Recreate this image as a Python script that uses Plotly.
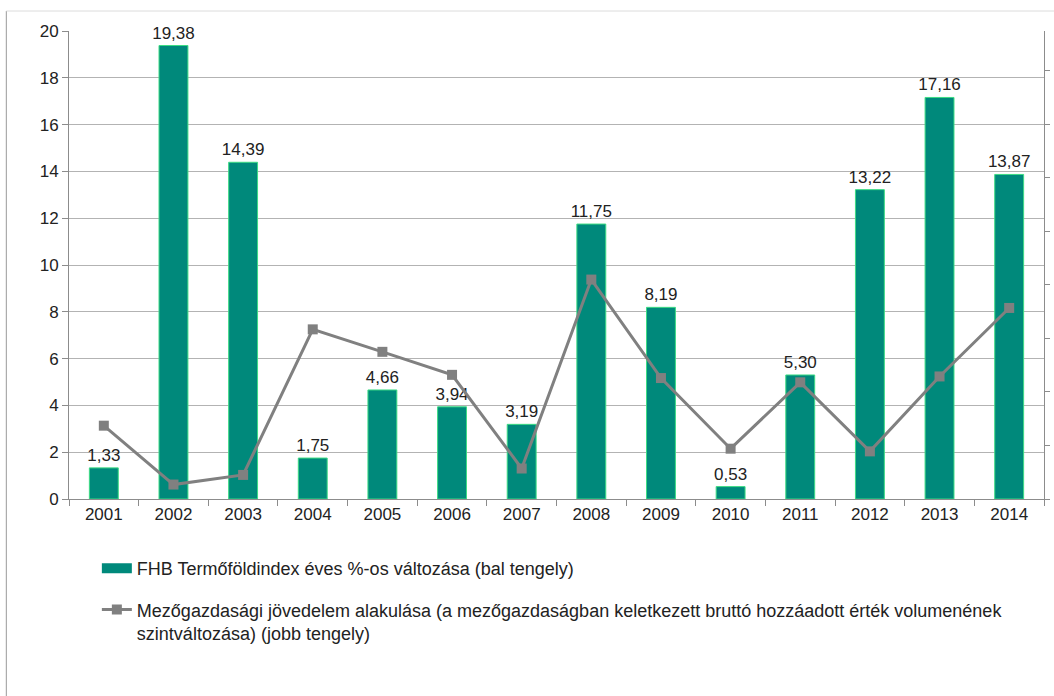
import plotly.graph_objects as go

years = ["2001", "2002", "2003", "2004", "2005", "2006", "2007",
         "2008", "2009", "2010", "2011", "2012", "2013", "2014"]
fhb_index = [1.33, 19.38, 14.39, 1.75, 4.66, 3.94, 3.19,
             11.75, 8.19, 0.53, 5.30, 13.22, 17.16, 13.87]
# right-axis values (tick spacing = 1 unit; axis labels not visible in the source)
agri_income = [1.37, 0.27, 0.45, 3.17, 2.75, 2.32, 0.57,
               4.10, 2.26, 0.94, 2.18, 0.89, 2.29, 3.57]

name_bar = "FHB Termőföldindex éves %-os változása (bal tengely)"
name_line = ("Mezőgazdasági jövedelem alakulása (a mezőgazdaságban keletkezett bruttó hozzáadott érték volumenének"
             "<br>szintváltozása) (jobb tengely)")

FONT = "Liberation Sans, Arial, sans-serif"
TXT = "#222222"
BAR = "#00897B"
W, H = 1054, 696
L, R, T, B = 69, 5, 31, 197
pw, ph = W - L - R, H - T - B

def px(x):
    return (x - L) / pw

def py(y):
    return (H - B - y) / ph

fig = go.Figure()
fig.add_trace(go.Bar(
    x=years, y=fhb_index, name=name_bar, showlegend=False,
    marker=dict(color=BAR, line=dict(color="#3ddc84", width=1)),
    texttemplate="%{y:.2f}", textposition="outside", constraintext="none",
    textfont=dict(family=FONT, size=17, color=TXT),
    cliponaxis=False,
))
# legend entry for the bars (wide swatch like the source)
fig.add_trace(go.Scatter(
    x=[None], y=[None], name=name_bar, mode="lines",
    line=dict(color=BAR, width=10), legendgroup="a",
))
fig.add_trace(go.Scatter(
    x=years, y=agri_income, name=name_line, yaxis="y2",
    mode="lines+markers", legendgroup="b",
    line=dict(color="#808080", width=3),
    marker=dict(symbol="square", size=10, color="#808080"),
))

fig.update_layout(
    width=W, height=H,
    margin=dict(l=L, r=R, t=T, b=B, pad=0),
    paper_bgcolor="white", plot_bgcolor="white",
    separators=", ",
    font=dict(family=FONT, size=17, color=TXT),
    bargap=0.585,
    showlegend=True,
    legend=dict(
        orientation="v", x=px(97), y=py(550), xanchor="left", yanchor="top",
        font=dict(family=FONT, size=18, color=TXT),
        tracegroupgap=15, itemwidth=30, valign="top",
        bgcolor="rgba(0,0,0,0)",
    ),
    xaxis=dict(
        showgrid=False, showline=True, linecolor="#8c8c8c", linewidth=1,
        ticks="outside", tickson="boundaries", ticklen=6, tickcolor="#8c8c8c",
        tickfont=dict(family=FONT, size=17, color=TXT),
        range=[-0.5, 13.5],
    ),
    yaxis=dict(
        range=[0, 20], dtick=2, showgrid=True, gridcolor="#b3b3b3", gridwidth=1,
        showline=True, linecolor="#8c8c8c", linewidth=1,
        ticks="outside", ticklen=6, tickcolor="#8c8c8c",
        tickfont=dict(family=FONT, size=17, color=TXT),
        zeroline=False,
    ),
    yaxis2=dict(
        overlaying="y", side="right", range=[0, 8.745], dtick=1,
        showgrid=False, showline=True, linecolor="#8c8c8c", linewidth=1,
        ticks="outside", ticklen=5, tickcolor="#8c8c8c",
        showticklabels=False, zeroline=False,
    ),
)

# outer chart frame (left and top edges)
fig.add_shape(type="line", xref="paper", yref="paper",
              x0=px(6), x1=px(6), y0=py(11), y1=py(700),
              line=dict(color="#9a9a9a", width=1))
fig.add_shape(type="line", xref="paper", yref="paper",
              x0=px(6), x1=px(1060), y0=py(11), y1=py(11),
              line=dict(color="#dcdcdc", width=1))

fig.write_html("out.html", config={"displayModeBar": False},
               post_script="document.body.style.margin='0';document.body.style.overflow='hidden';")
